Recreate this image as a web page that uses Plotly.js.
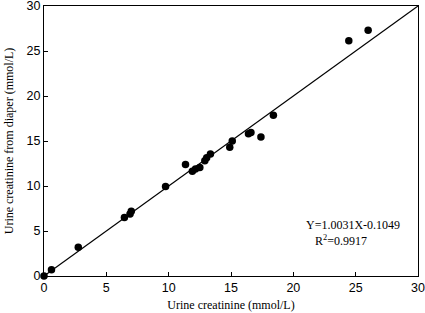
<!DOCTYPE html>
<html>
<head>
<meta charset="utf-8">
<script src="https://cdn.plot.ly/plotly-3.0.1.min.js"></script>
<style>html,body{margin:0;padding:0;background:#fff;}#chart{width:425px;height:313px;}</style>
</head>
<body>
<div id="chart"></div>
<script>
// Data
const creatinineX = [0, 0.6, 2.75, 6.45, 6.9, 7.0, 9.75, 11.35, 11.9, 12.15, 12.5, 12.9, 13.05, 13.35, 14.9, 15.1, 16.4, 16.6, 17.4, 18.4, 24.45, 26.0];
const diaperY     = [0, 0.7, 3.2, 6.5, 6.9, 7.2, 9.95, 12.4, 11.65, 11.9, 12.05, 12.8, 13.15, 13.55, 14.3, 15.0, 15.8, 15.95, 15.45, 17.85, 26.15, 27.3];
const lineX = [0, 30];
const lineY = [0, 30];
const tickVals = [0, 5, 10, 15, 20, 25, 30];
const eqText = "Y=1.0031X-0.1049<br>\u00a0\u00a0\u00a0R<sup>2</sup>=0.9917";

const serif = "Liberation Serif, Times New Roman, serif";
const sans = "Liberation Sans, Arial, sans-serif";

const traces = [
  {x: lineX, y: lineY, mode: 'lines', line: {color: '#000', width: 1.2}, hoverinfo: 'skip', cliponaxis: false},
  {x: creatinineX, y: diaperY, mode: 'markers', marker: {color: '#000', size: 7.5}, cliponaxis: false}
];

const axisCommon = {
  range: [0, 30], tickvals: tickVals, ticktext: tickVals.map(String), ticks: 'inside', ticklen: 4, tickcolor: '#000',
  showline: true, mirror: true, linecolor: '#000', linewidth: 1, showgrid: false, zeroline: false,
  tickfont: {family: sans, size: 12.5, color: '#000'}, automargin: false, ticklabeloverflow: 'allow'
};

const layout = {
  width: 425, height: 313,
  margin: {l: 44, r: 7, t: 6, b: 37},
  paper_bgcolor: '#fff', plot_bgcolor: '#fff',
  showlegend: false,
  xaxis: Object.assign({}, axisCommon, {
    title: {text: 'Urine creatinine (mmol/L)', font: {family: serif, size: 12, color: '#000'}, standoff: 6}
  }),
  yaxis: Object.assign({}, axisCommon, {
    title: {text: 'Urine creatinine from diaper (mmol/L)', font: {family: serif, size: 12, color: '#000'}, standoff: 10}
  }),
  annotations: [
    {x: 24.75, y: 4.8, xref: 'x', yref: 'y', text: eqText, showarrow: false, align: 'left',
     font: {family: serif, size: 12, color: '#000'}}
  ]
};

Plotly.newPlot('chart', traces, layout, {displayModeBar: false, staticPlot: true});
</script>
</body>
</html>
